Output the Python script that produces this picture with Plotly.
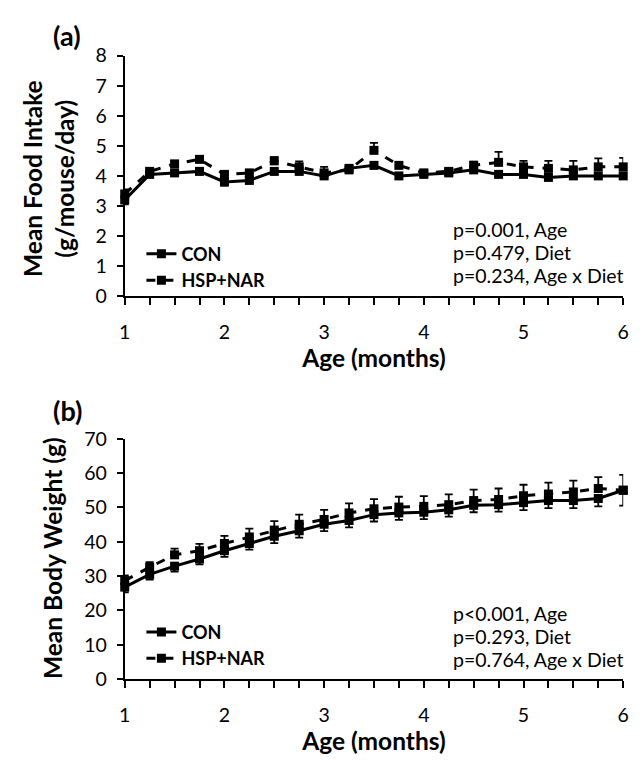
import plotly.graph_objects as go

age = [1, 1.25, 1.5, 1.75, 2, 2.25, 2.5, 2.75, 3, 3.25, 3.5, 3.75, 4, 4.25, 4.5, 4.75, 5, 5.25, 5.5, 5.75, 6]

food_con = [3.2, 4.05, 4.1, 4.15, 3.8, 3.85, 4.15, 4.15, 4.0, 4.25, 4.35, 4.0, 4.05, 4.1, 4.2, 4.05, 4.05, 3.95, 4.0, 4.0, 4.0]
food_con_err = [0.15, 0.1, 0.1, 0.1, 0.12, 0.1, 0.1, 0.1, 0.1, 0.15, 0.1, 0.1, 0.08, 0.1, 0.1, 0.08, 0.1, 0.1, 0.1, 0.1, 0.1]
food_hsp = [3.4, 4.15, 4.4, 4.55, 4.05, 4.1, 4.5, 4.3, 4.1, 4.2, 4.85, 4.35, 4.1, 4.15, 4.35, 4.45, 4.3, 4.25, 4.2, 4.3, 4.3]
food_hsp_err = [0.15, 0.1, 0.1, 0.1, 0.12, 0.1, 0.12, 0.18, 0.2, 0.15, 0.25, 0.1, 0.08, 0.1, 0.12, 0.35, 0.2, 0.25, 0.3, 0.28, 0.3]

bw_con = [26.8, 30.5, 32.9, 35.0, 37.4, 39.5, 41.6, 43.2, 45.1, 46.2, 47.9, 48.4, 48.6, 49.3, 50.6, 50.8, 51.4, 52.0, 52.0, 52.6, 55.0]
bw_con_err = [1.5, 1.5, 1.6, 1.6, 1.8, 1.8, 2.0, 2.0, 2.0, 2.0, 2.0, 2.0, 2.0, 2.0, 2.0, 2.0, 2.2, 2.2, 2.2, 2.3, 4.5]
bw_hsp = [28.7, 32.6, 36.2, 37.4, 39.5, 41.4, 43.4, 45.1, 46.5, 48.4, 49.6, 50.1, 50.3, 50.8, 52.0, 52.3, 53.4, 53.9, 54.5, 55.5, 55.0]
bw_hsp_err = [1.5, 1.5, 1.8, 2.0, 2.2, 2.4, 2.6, 2.8, 2.8, 2.8, 2.8, 3.0, 3.0, 3.0, 3.2, 3.2, 3.2, 3.3, 3.3, 3.3, 4.5]

food_ticks = [0, 1, 2, 3, 4, 5, 6, 7, 8]
bw_ticks = [0, 10, 20, 30, 40, 50, 60, 70]
x_major = [1, 2, 3, 4, 5, 6]

stats_a = ["p=0.001, Age", "p=0.479, Diet", "p=0.234, Age x Diet"]
stats_b = ["p<0.001, Age", "p=0.293, Diet", "p=0.764, Age x Diet"]

FONT = "Lato"
W, H = 640, 761
TICK_SIZE = 19.5
TITLE_SIZE = 24.5
LEG_SIZE = 18

fig = go.Figure()

def add_series(y, err, name, dash, xa, ya, legend, upper):
    ey = dict(type="data", symmetric=False, color="black", thickness=1.8, width=4)
    zeros = [0] * len(err)
    if upper:
        ey.update(array=err, arrayminus=zeros)
    else:
        ey.update(array=zeros, arrayminus=err)
    fig.add_trace(go.Scatter(
        x=age, y=y, name=name, mode="lines+markers",
        line=dict(color="black", width=3, dash=dash),
        marker=dict(symbol="square", size=9, color="black"),
        error_y=ey, xaxis=xa, yaxis=ya, legend=legend, cliponaxis=False,
    ))

add_series(food_con, food_con_err, "<b>CON</b>", "solid", "x", "y", "legend", False)
add_series(food_hsp, food_hsp_err, "<b>HSP+NAR</b>", "dash", "x", "y", "legend", True)
add_series(bw_con, bw_con_err, "<b>CON</b>", "solid", "x2", "y2", "legend2", False)
add_series(bw_hsp, bw_hsp_err, "<b>HSP+NAR</b>", "dash", "x2", "y2", "legend2", True)

def py(pix):
    return 1 - pix / H

def px(pix):
    return pix / W

dom_x = [px(121), px(629)]
dom_a = [py(293), py(45)]
dom_b = [py(688), py(440)]

common_x = dict(
    range=[1, 6], tickvals=x_major, ticks="outside", ticklen=7, tickwidth=2, tickcolor="black",
    showline=True, linecolor="black", linewidth=2, showgrid=False, zeroline=False,
    tickfont=dict(family=FONT, size=TICK_SIZE, color="black"), ticklabelstandoff=10,
    minor=dict(dtick=0.25, ticks="outside", ticklen=7, tickwidth=2, tickcolor="black", showgrid=False),
    title=dict(text="<b>Age (months)</b>", font=dict(family=FONT, size=TITLE_SIZE, color="black"), standoff=1),
    domain=dom_x,
)
common_y = dict(
    ticks="outside", ticklen=6, tickwidth=2, tickcolor="black", showline=True, linecolor="black", linewidth=2,
    showgrid=False, zeroline=False, tickfont=dict(family=FONT, size=TICK_SIZE, color="black"),
    ticklabelstandoff=6,
)

leg_common = dict(xanchor="left", yanchor="middle", bgcolor="rgba(0,0,0,0)", tracegroupgap=0,
                  font=dict(family=FONT, size=LEG_SIZE, color="black"), borderwidth=0)

fig.update_layout(
    width=W, height=H, margin=dict(l=0, r=0, t=0, b=0),
    paper_bgcolor="white", plot_bgcolor="white",
    xaxis=dict(common_x, anchor="y"),
    yaxis=dict(common_y, range=[0, 8], tickvals=food_ticks, domain=dom_a, anchor="x"),
    xaxis2=dict(common_x, anchor="y2"),
    yaxis2=dict(common_y, range=[0, 70], tickvals=bw_ticks, domain=dom_b, anchor="x2"),
    legend=dict(leg_common, x=px(138), y=py(263)),
    legend2=dict(leg_common, x=px(138), y=py(653)),
    showlegend=True,
)

def note(text, x, y, size, angle=0, xanchor="center"):
    return dict(text=text, x=px(x), y=py(y), xref="paper", yref="paper", showarrow=False,
                xanchor=xanchor, yanchor="middle", textangle=angle,
                font=dict(family=FONT, size=size, color="black"))

ann = [
    note("<b>(a)</b>", 62, 24, 27),
    note("<b>(b)</b>", 63, 411, 27),
    note("<b>Mean Food Intake<br>(g/mouse/day)</b>", 44, 172, TITLE_SIZE, angle=-90),
    note("<b>Mean Body Weight (g)</b>", 48, 563, TITLE_SIZE, angle=-90),
]
for i, t in enumerate(stats_a):
    ann.append(note(t, 453, 224 + 24 * i, TICK_SIZE, xanchor="left"))
for i, t in enumerate(stats_b):
    ann.append(note(t, 453, 620 + 24 * i, TICK_SIZE, xanchor="left"))
fig.update_layout(annotations=ann)

fig.write_html("out.html", config={"displayModeBar": False},
               post_script="document.body.style.margin='0px';")
